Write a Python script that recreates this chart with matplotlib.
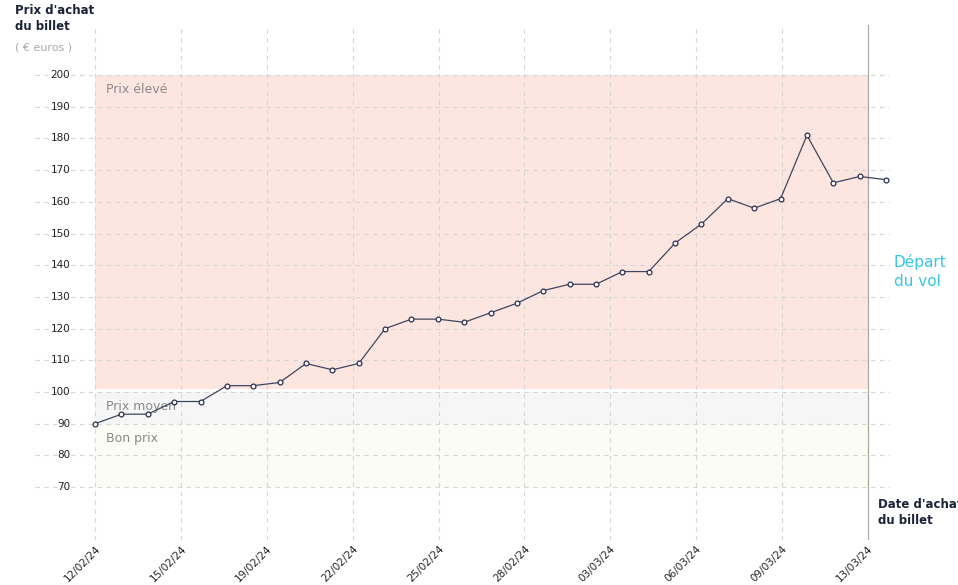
import numpy as np
import matplotlib.pyplot as plt

prices = [90, 93, 93, 97, 97, 102, 102, 103, 109, 107, 109, 120, 123, 123, 122, 125,
          128, 132, 134, 134, 138, 138, 147, 153, 161, 158, 161, 181, 166, 168, 167]
days = np.arange(len(prices))
tick_labels = ['12/02/24', '15/02/24', '19/02/24', '22/02/24', '25/02/24',
               '28/02/24', '03/03/24', '06/03/24', '09/03/24', '13/03/24']
tick_pos = np.linspace(0, 29.31, len(tick_labels))
y_ticks = list(range(70, 201, 10))
bands = [(101, 200, '#fde6e0', 'Prix élevé'), (90, 100, '#f6f6f6', 'Prix moyen'),
         (70, 90, '#fbfcf3', 'Bon prix')]
depart_x = 29.31

fig = plt.figure(figsize=(9.58, 5.85), dpi=100)
W, H = 958, 585
ax = fig.add_axes([35 / W, 45 / H, (890 - 35) / W, (540 - 25) / H])
ax.set_xlim(-2.28, 30.15)
ax.set_ylim(53.3, 215.8)
for s in ax.spines.values():
    s.set_visible(False)

for lo, hi, col, lab in bands:
    ax.fill_between([0, depart_x], lo, hi, color=col, lw=0, zorder=0)
    ax.text(0.4, hi - 2.5, lab, fontsize=9, color='#8a8a8a', va='top')

for y in y_ticks:
    ax.hlines(y, -2.28, 30.15, colors='#d5d5d5', linestyles=(0, (4, 4)), lw=0.8, zorder=1)
    ax.text(-0.95, y, str(y), fontsize=7.5, color='#222', va='center', ha='right',
            clip_on=False)
for x in tick_pos[:-1]:
    ax.axvline(x, color='#d5d5d5', ls=(0, (4, 4)), lw=0.8, zorder=1)
ax.axvline(depart_x, color='#aaaaaa', lw=0.9, zorder=1)

ax.plot(days, prices, color='#3f4660', lw=0.9, zorder=3)
ax.scatter(days, prices, s=12, facecolor='white', edgecolor='#2a3050', lw=0.9, zorder=4)

ax.set_yticks([])
ax.set_xticks(tick_pos)
ax.set_xticklabels(tick_labels, rotation=45, ha='right', fontsize=7.5, color='#222',
                   rotation_mode='anchor')
ax.tick_params(axis='x', length=0, pad=3)

fig.text(15 / W, 1 - 18 / H, "Prix d'achat\ndu billet", fontsize=8.5, fontweight='bold',
         color='#1a2238', va='center', linespacing=1.3)
fig.text(15 / W, 1 - 47 / H, "( € euros )", fontsize=8, color='#aaaaaa', va='center')
fig.text(878 / W, 1 - 513 / H, "Date d'achat\ndu billet", fontsize=8.5, fontweight='bold',
         color='#1a2238', va='center', linespacing=1.3)
ax.text(30.3, 138, "Départ\ndu vol", fontsize=11, color='#35c6e8', va='center',
        linespacing=1.4, clip_on=False)

fig.savefig('out.png', dpi=100)
